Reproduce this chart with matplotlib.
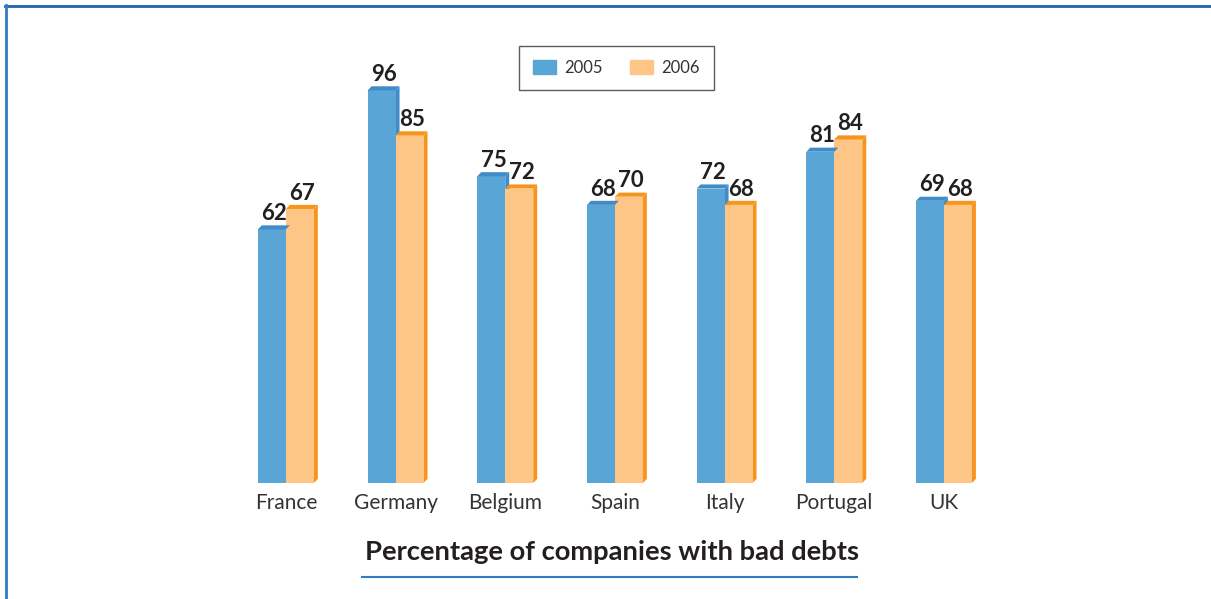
import numpy as np
import matplotlib.pyplot as plt
from matplotlib.patches import Polygon, Patch
from matplotlib.lines import Line2D

countries = ['France', 'Germany', 'Belgium', 'Spain', 'Italy', 'Portugal', 'UK']
y2005 = [62, 96, 75, 68, 72, 81, 69]
y2006 = [67, 85, 72, 70, 68, 84, 68]

blue, blue_dark = '#58a5d6', '#3f8cc8'
orange, orange_dark = '#fdc687', '#f7941d'

plt.rcParams['font.family'] = ['Lato', 'DejaVu Sans']

fig = plt.figure(figsize=(12.11, 5.99), dpi=100)
ax = fig.add_axes([0.1908, 0.1937, 0.634, 0.751])

x = np.arange(len(countries))
w = 0.255
dx, dy = 0.036, 1.0   # fake depth of the 3d bars


def bar3d(xs, vals, front, dark):
    ax.bar(xs, vals, width=w, align='edge', color=front, linewidth=0, zorder=2)
    for x0, v in zip(xs, vals):
        top = [(x0, v), (x0 + w, v), (x0 + w + dx, v + dy), (x0 + dx, v + dy)]
        side = [(x0 + w, 0), (x0 + w + dx, dy), (x0 + w + dx, v + dy), (x0 + w, v)]
        ax.add_patch(Polygon(side, closed=True, color=dark, lw=0, zorder=1))
        ax.add_patch(Polygon(top, closed=True, color=dark, lw=0, zorder=3))
        ax.text(x0 + w / 2 + 0.02, v + dy + 0.3, str(v), ha='center', va='bottom',
                fontsize=16, fontweight='bold', color='#231f20')


bar3d(x - w, y2005, blue, blue_dark)
bar3d(x, y2006, orange, orange_dark)

ax.set_xlim(-0.5, 6.5)
ax.set_ylim(0, 110)
ax.set_xticks(x)
ax.set_xticklabels(countries, fontsize=15, color='#333333')
ax.tick_params(axis='x', length=0, pad=7)
ax.set_yticks([])
for s in ax.spines.values():
    s.set_visible(False)

handles = [Patch(color=blue), Patch(color=orange)]
leg = fig.legend(handles, ['2005', '2006'], loc='center', bbox_to_anchor=(0.509, 0.887),
                 ncol=2, frameon=True, fancybox=False, edgecolor='#333333', fontsize=12,
                 handlelength=1.4, handleheight=0.9, columnspacing=1.6, borderpad=0.85,
                 handletextpad=0.5)
leg.get_frame().set_linewidth(1.0)
for t in leg.get_texts():
    t.set_color('#333333')

fig.text(0.505, 0.079, 'Percentage of companies with bad debts', ha='center', va='center',
         fontsize=19.7, fontweight='bold', color='#231f20')
fig.add_artist(Line2D([362 / 1211, 857 / 1211], [1 - 577 / 599] * 2, color='#2f7cc1', lw=1.5))

# page frame on top and left
fig.add_artist(Line2D([5 / 1211, 1], [1 - 5.5 / 599] * 2, color='#1f64a8', lw=2))
fig.add_artist(Line2D([6 / 1211] * 2, [0, 1 - 5 / 599], color='#2f7cc1', lw=2))

fig.savefig('out.png', dpi=100)
